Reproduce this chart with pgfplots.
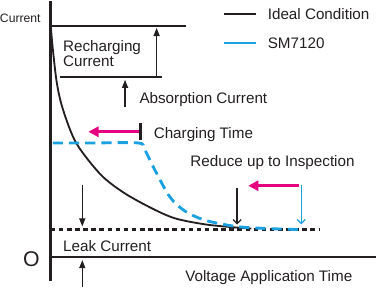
\documentclass[border=0pt]{standalone}
\usepackage{pgfplots}
\pgfplotsset{compat=1.18}
\usepackage{fontspec}
\setmainfont{Liberation Sans}
\usetikzlibrary{arrows.meta}
\definecolor{txt}{HTML}{231F20}
\definecolor{cy}{HTML}{1BA1E2}
\definecolor{mg}{HTML}{E4007F}
\begin{document}
\begin{tikzpicture}
\begin{axis}[scale only axis, width=377bp, height=287bp,
  xmin=0, xmax=377, ymin=0, ymax=287, hide axis, clip=false]
% axes
\addplot[txt, line width=2.8pt] coordinates {(57.5,280) (57.5,5)};
\addplot[txt, line width=2.8pt] coordinates {(57.5,29) (377,29)};
% top lines
\addplot[txt, line width=2.5pt] coordinates {(58,256) (191,256)};
\addplot[txt, line width=2.5pt] coordinates {(67,206) (167,206)};
% leak dotted line
\addplot[txt, line width=2.5pt, dash pattern=on 4.5pt off 3.5pt] coordinates {(58,56) (322,56)};
% ideal curve
\addplot[txt, line width=1.8pt, smooth] coordinates {
 (58,256) (60,234) (64,200) (70,174) (83,141) (107,110) (130,92) (157,77) (180,67) (210,61) (240,58) (255,57)};
% SM7120 dashed
\addplot[cy, line width=2.8pt, smooth, dash pattern=on 10pt off 6pt] coordinates {
 (60,141) (100,141) (144,141) (150,135) (160,115) (175,88) (190,74) (210,65) (240,59) (270,57) (302,56)};
% arrows
\draw[txt, line width=1.2pt, -{Triangle[length=8pt,width=6pt]}] (162,206) -- (162,254);
\draw[txt, line width=1.2pt, -{Triangle[length=8pt,width=6pt]}] (131,176) -- (131,203);
\draw[txt, line width=1.2pt, -{Triangle[length=8pt,width=6pt]}] (89,100) -- (89,59);
\draw[txt, line width=1.2pt, -{Triangle[length=8pt,width=6pt]}] (89,0) -- (89,26);
\draw[mg, line width=2.6pt, -{Triangle[length=10pt,width=10pt]}] (145,152) -- (95,152);
\draw[txt, line width=2.4pt] (146,161) -- (146,144);
\draw[mg, line width=2.6pt, -{Triangle[length=10pt,width=10pt]}] (302,99) -- (252,99);
\draw[txt, line width=1.2pt, -{Straight Barb[length=4pt,width=8pt]}] (241,97) -- (241,61);
\draw[cy, line width=1.2pt, -{Straight Barb[length=4pt,width=8pt]}] (304,100) -- (304,61);
% legend
\addplot[txt, line width=2pt] coordinates {(228,268) (260,268)};
\addplot[cy, line width=2pt] coordinates {(228,239) (260,239)};
\node[anchor=west, inner sep=0, text=txt, font=\fontsize{15}{17}\selectfont] at (271,268) {Ideal Condition};
\node[anchor=west, inner sep=0, text=txt, font=\fontsize{15}{17}\selectfont] at (271,239) {SM7120};
% labels
\node[anchor=west, inner sep=0, text=txt, font=\fontsize{12}{14}\selectfont] at (8,263) {Current};
\node[anchor=north west, inner sep=0, align=left, text=txt, font=\fontsize{15}{12}\selectfont] at (70,241.5) {Recharging\\Current};
\node[anchor=west, inner sep=0, text=txt, font=\fontsize{15}{17}\selectfont] at (145,184) {Absorption Current};
\node[anchor=west, inner sep=0, text=txt, font=\fontsize{15}{17}\selectfont] at (159,149) {Charging Time};
\node[anchor=west, inner sep=0, text=txt, font=\fontsize{15}{17}\selectfont] at (195,122) {Reduce up to Inspection};
\node[anchor=west, inner sep=0, text=txt, font=\fontsize{15}{17}\selectfont] at (70,40) {Leak Current};
\node[anchor=center, inner sep=0, text=txt, font=\fontsize{21}{23}\selectfont] at (39,27) {O};
\node[anchor=west, inner sep=0, text=txt, font=\fontsize{15}{17}\selectfont] at (190,9) {Voltage Application Time};
\end{axis}
\end{tikzpicture}
\end{document}
